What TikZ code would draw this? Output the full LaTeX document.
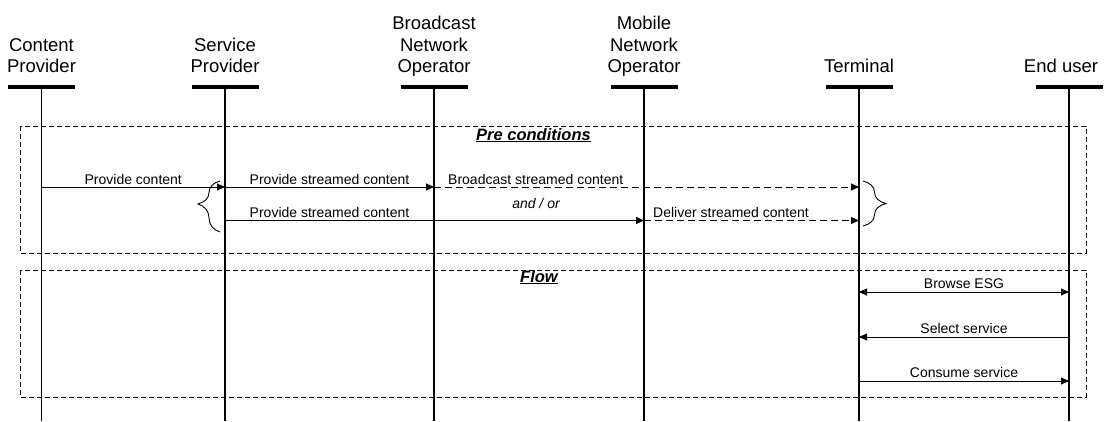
\documentclass[tikz,border=0pt]{standalone}
\usepackage{fontspec}
\setmainfont{Liberation Sans}
\usetikzlibrary{arrows.meta,decorations.pathreplacing}
\begin{document}
\begin{tikzpicture}[x=1pt,y=-1pt,
  >={Triangle[length=8pt,width=7pt]},
  bar/.style={fill=black, draw=none, minimum width=67pt, minimum height=4.3pt, inner sep=0pt, outer sep=0pt},
  hdr/.style={font=\fontsize{18.5}{21.5}\selectfont, align=center, inner sep=0pt, anchor=south},
  life/.style={line width=1.3pt},
  msg/.style={line width=0.9pt, ->},
  dmsg/.style={msg, dash pattern=on 7pt off 4pt},
  lbl/.style={font=\fontsize{14}{16}\selectfont, inner sep=0pt, anchor=base},
  dbox/.style={line width=0.9pt, dash pattern=on 5pt off 3pt},
  ttl/.style={font=\fontsize{16.5}{18}\selectfont\bfseries\itshape, inner sep=0pt, anchor=base},
  brc/.style={line width=0.9pt, decorate}
]
\useasboundingbox (0,0) rectangle (1106,421);
% frames
\draw[dbox] (20,126) rectangle (1086,253);
\draw[dbox] (20,270) rectangle (1086,397);
% lifeline heads
\node[bar] (cp) at (41.5,87.2) {};
\node[bar] (sp) at (225,87.2) {};
\node[bar] (bn) at (434,87.2) {};
\node[bar] (mn) at (644,87.2) {};
\node[bar] (te) at (859,87.2) {};
\node[bar] (eu) at (1069,87.2) {};
\node[hdr] (cph) at ([yshift=5.5pt]cp.north) {Content\\Provider\strut};
\node[hdr] (sph) at ([yshift=5.5pt]sp.north) {Service\\Provider\strut};
\node[hdr] (bnh) at ([yshift=5.5pt]bn.north) {Broadcast\\Network\\Operator\strut};
\node[hdr] (mnh) at ([yshift=5.5pt]mn.north) {Mobile\\Network\\Operator\strut};
\node[hdr] (teh) at ([yshift=5.5pt]te.north) {Terminal\strut};
\node[hdr] (euh) at ([yshift=5.5pt,xshift=-8pt]eu.north) {End user\strut};
% lifelines
\coordinate (bot) at (0,421);
\foreach \n in {cp,sp,bn,mn,te,eu} \draw[life] (\n.south) -- (\n |- bot);
% rows
\coordinate (r1) at (0,187);
\coordinate (r2) at (0,220.5);
\coordinate (r3) at (0,292);
\coordinate (r4) at (0,337);
\coordinate (r5) at (0,381);
% titles
\node[ttl] (pre) at (533.5,140) {\underline{Pre conditions}};
\node[ttl] (flow) at (539,282) {\underline{Flow}};
% pre conditions messages
\draw[msg] (cp |- r1) -- (sp |- r1) node[lbl, midway, yshift=3pt] (m1) {Provide content};
\draw[msg] (sp |- r1) -- (bn |- r1) node[lbl, midway, yshift=3pt] (m2) {Provide streamed content};
\draw[dmsg] (bn |- r1) -- (te |- r1);
\node[lbl, anchor=base west] (m3) at ([xshift=14pt,yshift=3pt]bn |- r1) {Broadcast streamed content};
\draw[msg] (sp |- r2) -- (mn |- r2);
\path (sp |- r2) -- (bn |- r2) node[lbl, midway, yshift=3.5pt] (m4) {Provide streamed content};
\draw[dmsg] (mn |- r2) -- (te |- r2);
\node[lbl, anchor=base west] (m5) at ([xshift=9pt,yshift=3.5pt]mn |- r2) {Deliver streamed content};
\node[lbl, font=\fontsize{14}{16}\selectfont\itshape] (andor) at (536,208) {and / or};
% braces
\draw[brc, decoration={brace, amplitude=22pt, aspect=0.55}] (220,232) -- (220,181);
\draw[brc, decoration={brace, amplitude=23pt, aspect=0.5}] (863,181) -- (863,226);
% flow messages
\draw[line width=0.9pt, <->] (te |- r3) -- (eu |- r3) node[lbl, midway, yshift=4pt] (f1) {Browse ESG};
\draw[msg] (eu |- r4) -- (te |- r4) node[lbl, midway, yshift=3.5pt] (f2) {Select service};
\draw[msg] (te |- r5) -- (eu |- r5) node[lbl, midway, yshift=3.5pt] (f3) {Consume service};
\end{tikzpicture}
\end{document}
